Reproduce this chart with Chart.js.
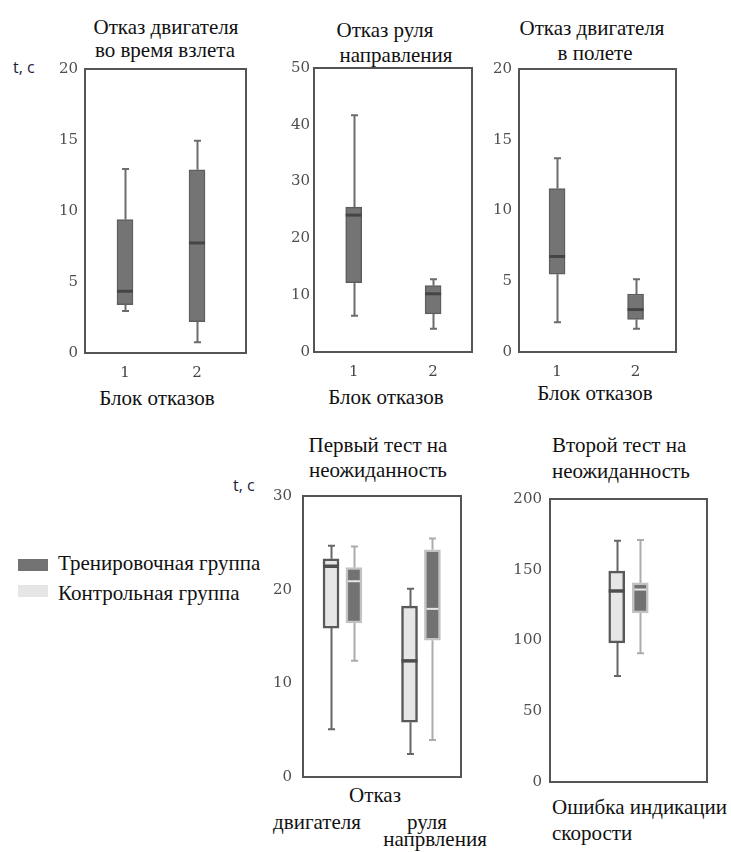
<!DOCTYPE html>
<html>
<head>
<meta charset="utf-8">
<script src="https://cdn.jsdelivr.net/npm/chart.js@4/dist/chart.umd.min.js"></script>
<style>
  body { margin: 0; background: #fff; width: 731px; height: 852px; position: relative; overflow: hidden;
         font-family: "Liberation Serif", "Times New Roman", serif; color: #111; }
  .c { position: absolute; font-size: 21px; line-height: 1; white-space: nowrap; transform: translate(-50%, -50%); }
  .l { position: absolute; font-size: 21px; line-height: 1; white-space: nowrap; transform: translateY(-50%); }
  .unit { position: absolute; font-family: "Open Sans", "Liberation Sans", sans-serif; font-size: 16px;
          color: #1d1d3a; line-height: 1; transform: translateY(-50%); }
  .sw { position: absolute; width: 30px; height: 12px; }
  canvas { position: absolute; }
</style>
</head>
<body>

<div class="unit" style="left:13px;top:67px">t, c</div>
<div class="unit" style="left:233px;top:485px">t, c</div>

<div class="c" style="left:166px;top:27px">Отказ двигателя</div>
<div class="c" style="left:165px;top:50px">во время взлета</div>
<div class="c" style="left:385px;top:30px">Отказ руля</div>
<div class="c" style="left:396px;top:55px">направления</div>
<div class="c" style="left:592px;top:28px">Отказ двигателя</div>
<div class="c" style="left:595px;top:53px">в полете</div>
<div class="c" style="left:378px;top:445px">Первый тест на</div>
<div class="c" style="left:378px;top:470px">неожиданность</div>
<div class="l" style="left:552px;top:445px">Второй тест на</div>
<div class="l" style="left:552px;top:471px">неожиданность</div>

<div style="position:absolute;left:57px;top:386px;width:200px;height:19px;overflow:hidden">
  <div class="c" style="left:100px;top:12px">Блок отказов</div>
</div>
<div class="c" style="left:386px;top:397px">Блок отказов</div>
<div class="c" style="left:595px;top:393px">Блок отказов</div>

<div class="c" style="left:375px;top:795px">Отказ</div>
<div class="c" style="left:317px;top:822px">двигателя</div>
<div class="c" style="left:427px;top:822px">руля</div>
<div class="c" style="left:435px;top:839px">напрвления</div>
<div class="l" style="left:552px;top:807px">Ошибка индикации</div>
<div class="l" style="left:552px;top:833px">скорости</div>

<div class="sw" style="left:18px;top:559px;background:#727272"></div>
<div class="sw" style="left:18px;top:585px;background:#e6e6e6"></div>
<div class="l" style="left:58px;top:563px">Тренировочная группа</div>
<div class="l" style="left:58px;top:593px">Контрольная группа</div>

<canvas id="p1"></canvas>
<canvas id="p2"></canvas>
<canvas id="p3"></canvas>
<canvas id="p4"></canvas>
<canvas id="p5"></canvas>

<script>
// Failure blocks (x positions and their labels)
const blockPos = [1, 2];
const blockLabels = ['1', '2'];

// Отказ двигателя во время взлета, t, c
const takeoffMin = [2.95, 0.75];
const takeoffQ1 = [3.4, 2.2];
const takeoffMedian = [4.35, 7.75];
const takeoffQ3 = [9.4, 12.9];
const takeoffMax = [12.95, 14.95];

// Отказ руля направления
const rudderMin = [6.4, 4.1];
const rudderQ1 = [12.2, 6.7];
const rudderMedian = [24.1, 10.25];
const rudderQ3 = [25.5, 11.7];
const rudderMax = [41.7, 12.8];

// Отказ двигателя в полете
const flightMin = [2.1, 1.65];
const flightQ1 = [5.5, 2.3];
const flightMedian = [6.75, 3.0];
const flightQ3 = [11.55, 4.1];
const flightMax = [13.7, 5.15];

// Первый тест на неожиданность: отказ двигателя, отказ руля направления
const surprise1Pos = [1, 2];
const s1ControlMin = [5.1, 2.45];
const s1ControlQ1 = [15.9, 5.85];
const s1ControlMedian = [22.5, 12.4];
const s1ControlQ3 = [23.3, 18.25];
const s1ControlMax = [24.7, 20.1];
const s1TrainMin = [12.4, 3.95];
const s1TrainQ1 = [16.45, 14.6];
const s1TrainMedian = [20.9, 17.95];
const s1TrainQ3 = [22.35, 24.25];
const s1TrainMax = [24.6, 25.45];

// Второй тест на неожиданность: ошибка индикации скорости
const surprise2Pos = [1];
const s2ControlMin = [75];
const s2ControlQ1 = [98.3];
const s2ControlMedian = [135];
const s2ControlQ3 = [149];
const s2ControlMax = [170.5];
const s2TrainMin = [91];
const s2TrainQ1 = [119.5];
const s2TrainMedian = [136];
const s2TrainQ3 = [140.7];
const s2TrainMax = [171];

// Y axis ranges
const yMax = { p1: 20, p2: 50, p3: 20, p4: 30, p5: 200 };
const yStep = { p1: 5, p2: 10, p3: 5, p4: 10, p5: 50 };

// Box styles
const DARK = { fill: '#747474', border: '#5e5e5e', borderWidth: 1.5, whisker: '#6c6c6c', median: '#454545', medianWidth: 3 };
const CONTROL = { fill: '#e6e6e6', border: '#595959', borderWidth: 2.5, whisker: '#666666', median: '#4e4e4e', medianWidth: 3.5 };
const TRAIN = { fill: '#727272', border: '#c2c2c2', borderWidth: 2.5, whisker: '#acacac', median: '#e6e6e6', medianWidth: 2 };

// shift: horizontal offset of a group member from its category, in axis units
function boxDataset(pos, lo, q1, med, q3, hi, style, shift) {
  return {
    data: pos.map((x, i) => ({ x: x + (shift || 0), y: [q1[i], q3[i]] })),
    whiskerLow: lo,
    whiskerHigh: hi,
    median: med,
    style: style,
    backgroundColor: style.fill,
    borderColor: style.border,
    borderWidth: style.borderWidth,
    borderSkipped: false,
    grouped: false,
    barThickness: 16
  };
}

// Whiskers, medians and the plot frame
const boxPlot = {
  id: 'boxPlot',
  beforeDatasetsDraw(chart) {
    const ctx = chart.ctx, ys = chart.scales.y;
    chart.data.datasets.forEach((ds, di) => {
      const meta = chart.getDatasetMeta(di);
      meta.data.forEach((el, i) => {
        const x = Math.round(el.x) + 0.5;
        const yLo = ys.getPixelForValue(ds.whiskerLow[i]);
        const yHi = ys.getPixelForValue(ds.whiskerHigh[i]);
        const yQ1 = ys.getPixelForValue(ds.data[i].y[0]);
        const yQ3 = ys.getPixelForValue(ds.data[i].y[1]);
        ctx.save();
        ctx.strokeStyle = ds.style.whisker;
        ctx.lineWidth = 2;
        ctx.beginPath();
        ctx.moveTo(x, yHi); ctx.lineTo(x, yQ3);
        ctx.moveTo(x, yQ1); ctx.lineTo(x, yLo);
        ctx.moveTo(x - 3.5, yHi); ctx.lineTo(x + 3.5, yHi);
        ctx.moveTo(x - 3.5, yLo); ctx.lineTo(x + 3.5, yLo);
        ctx.stroke();
        ctx.restore();
      });
    });
  },
  afterDatasetsDraw(chart) {
    const ctx = chart.ctx, ys = chart.scales.y;
    chart.data.datasets.forEach((ds, di) => {
      const meta = chart.getDatasetMeta(di);
      meta.data.forEach((el, i) => {
        const y = ys.getPixelForValue(ds.median[i]);
        const inset = ds.style === TRAIN ? 2 : 0;
        ctx.save();
        ctx.strokeStyle = ds.style.median;
        ctx.lineWidth = ds.style.medianWidth;
        ctx.beginPath();
        ctx.moveTo(el.x - el.width / 2 + inset, y);
        ctx.lineTo(el.x + el.width / 2 - inset, y);
        ctx.stroke();
        ctx.restore();
      });
    });
  },
  afterDraw(chart) {
    const a = chart.chartArea, ctx = chart.ctx;
    ctx.save();
    ctx.strokeStyle = '#555555';
    ctx.lineWidth = 2;
    ctx.strokeRect(a.left, a.top, a.right - a.left, a.bottom - a.top);
    ctx.restore();
  }
};

const PAD_L = 55, PAD_T = 15, PAD_R = 10, PAD_B = 35;
const tickFont = { family: '"DejaVu Serif", serif', size: 15 };

function makePanel(id, rect, cfg) {
  const cv = document.getElementById(id);
  const w = rect.right - rect.left + PAD_L + PAD_R;
  const h = rect.bottom - rect.top + PAD_T + PAD_B;
  cv.width = w; cv.height = h;
  cv.style.left = (rect.left - PAD_L) + 'px';
  cv.style.top = (rect.top - PAD_T) + 'px';
  cv.style.width = w + 'px'; cv.style.height = h + 'px';

  new Chart(cv, {
    type: 'bar',
    data: { datasets: cfg.datasets },
    options: {
      responsive: false,
      animation: false,
      events: [],
      devicePixelRatio: 1,
      layout: { padding: { left: 0, top: PAD_T, right: PAD_R, bottom: 0 } },
      plugins: { legend: { display: false }, tooltip: { enabled: false } },
      scales: {
        x: {
          type: 'linear',
          offset: false,
          min: cfg.xMin, max: cfg.xMax,
          grid: { display: false, drawTicks: false, offset: false }, border: { display: false },
          afterBuildTicks: s => { s.ticks = cfg.xTicks.map(v => ({ value: v })); },
          ticks: {
            display: cfg.showX,
            font: tickFont, color: '#444444', padding: 11,
            callback: v => blockLabels[blockPos.indexOf(v)]
          },
          afterFit: s => { s.height = PAD_B; }
        },
        y: {
          min: 0, max: cfg.yMax,
          grid: { display: false, drawTicks: false }, border: { display: false },
          ticks: { stepSize: cfg.yStep, font: tickFont, color: '#4f4f4f', padding: cfg.yPad },
          afterFit: s => { s.width = PAD_L; }
        }
      }
    },
    plugins: [boxPlot]
  });
}

makePanel('p1', { left: 85, top: 68, right: 246, bottom: 353 }, {
  datasets: [boxDataset(blockPos, takeoffMin, takeoffQ1, takeoffMedian, takeoffQ3, takeoffMax, DARK)],
  xMin: 0.445, xMax: 2.68, xTicks: blockPos, showX: true,
  yMax: yMax.p1, yStep: yStep.p1, yPad: 7
});

makePanel('p2', { left: 314, top: 68, right: 472, bottom: 352 }, {
  datasets: [boxDataset(blockPos, rudderMin, rudderQ1, rudderMedian, rudderQ3, rudderMax, DARK)],
  xMin: 0.5, xMax: 2.49, xTicks: blockPos, showX: true,
  yMax: yMax.p2, yStep: yStep.p2, yPad: 4
});

makePanel('p3', { left: 519, top: 68, right: 676, bottom: 352 }, {
  datasets: [boxDataset(blockPos, flightMin, flightQ1, flightMedian, flightQ3, flightMax, DARK)],
  xMin: 0.515, xMax: 2.515, xTicks: blockPos, showX: true,
  yMax: yMax.p3, yStep: yStep.p3, yPad: 7
});

makePanel('p4', { left: 303, top: 491, right: 461, bottom: 777 }, {
  datasets: [
    boxDataset(surprise1Pos, s1ControlMin, s1ControlQ1, s1ControlMedian, s1ControlQ3, s1ControlMax, CONTROL, -0.146),
    boxDataset(surprise1Pos, s1TrainMin, s1TrainQ1, s1TrainMedian, s1TrainQ3, s1TrainMax, TRAIN, 0.146)
  ],
  xMin: 0.497, xMax: 2.51, xTicks: surprise1Pos, showX: false,
  yMax: yMax.p4, yStep: yStep.p4, yPad: 11
});

makePanel('p5', { left: 550, top: 497, right: 707, bottom: 782 }, {
  datasets: [
    boxDataset(surprise2Pos, s2ControlMin, s2ControlQ1, s2ControlMedian, s2ControlQ3, s2ControlMax, CONTROL, -0.075),
    boxDataset(surprise2Pos, s2TrainMin, s2TrainQ1, s2TrainMedian, s2TrainQ3, s2TrainMax, TRAIN, 0.075)
  ],
  xMin: 0.5, xMax: 1.5, xTicks: surprise2Pos, showX: false,
  yMax: yMax.p5, yStep: yStep.p5, yPad: 8
});
</script>
</body>
</html>
